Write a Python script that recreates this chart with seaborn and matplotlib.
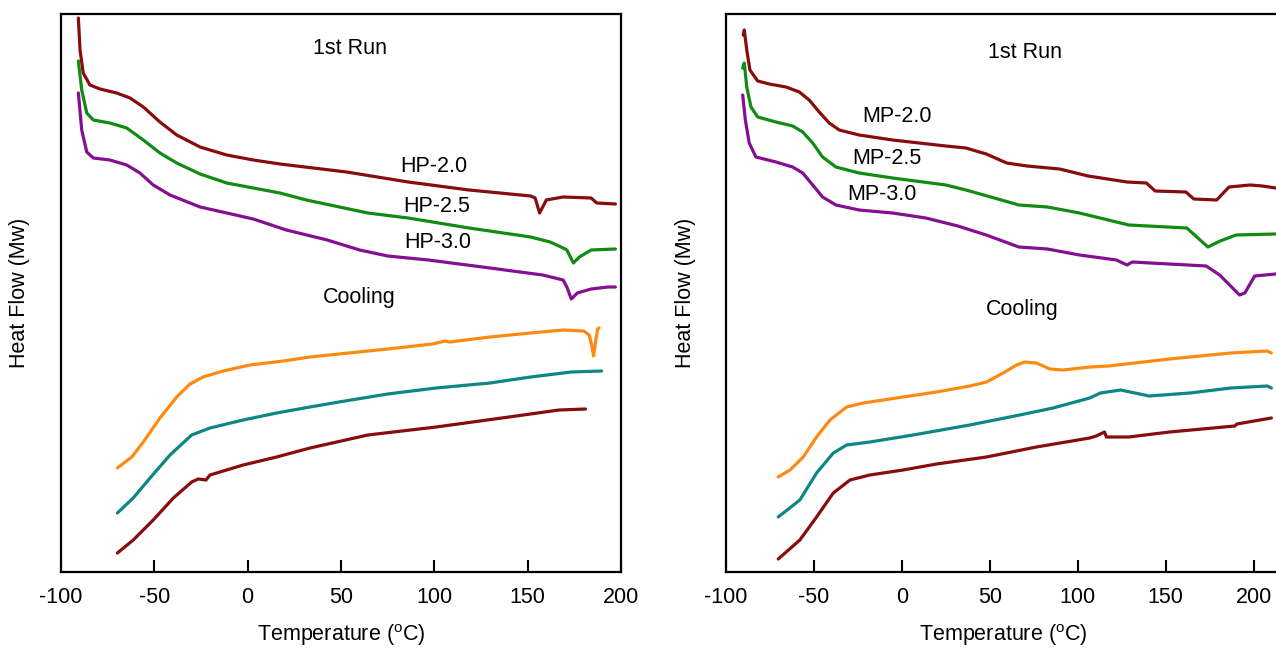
import matplotlib
matplotlib.use("Agg")
import matplotlib.pyplot as plt
import numpy as np
import pandas as pd
import seaborn as sns

# ---------------- data (temperature in °C, heat flow in arbitrary units) -------------
xticks = [-100, -50, 0, 50, 100, 150, 200]
xtick_labels = ["-100", "-50", "0", "50", "100", "150", "200"]

# Left panel (HP) - 1st run
hp20_t = [-90.7, -89.8, -88.1, -84.5, -79.1, -70.2, -63, -55.9, -47, -38, -25.5, -11.2, 3,
          17.3, 53, 86, 118.6, 151.6, 154, 156.4, 160, 169, 184, 187, 197]
hp20_hf = [554, 522, 499, 487, 483, 479, 474, 465, 450, 437, 425, 417, 412,
           408, 400, 390, 382, 376, 374, 359, 372, 375, 374, 369, 368]

hp25_t = [-90.7, -88.9, -86.2, -82.7, -73.8, -64.8, -55.9, -47, -38, -25.5, -11.2, 3, 17.3,
          31.4, 64.4, 86, 118.6, 151.6, 162, 169, 171, 174.5, 177.7, 184, 197]
hp25_hf = [511, 482, 459, 452, 449, 444, 432, 419, 409, 398, 389, 384, 379,
           372, 359, 354, 344, 335, 330, 324, 322, 309, 315, 322, 323]

hp30_t = [-90.7, -88.9, -86.2, -82.7, -73.8, -64.8, -57.7, -50.6, -41.6, -25.5, -11.2, 3,
          20.7, 42.6, 60, 75, 96.8, 129.8, 158, 169, 171, 173.4, 176.6, 184, 193, 197]
hp30_hf = [479, 442, 420, 414, 412, 407, 399, 387, 377, 365, 359, 353,
           342, 332, 322, 316, 312, 304, 297, 292, 285, 273, 279, 283, 285, 285]

# Left panel (HP) - cooling
hpc_orange_t = [-69.8, -62.1, -55.9, -47, -38, -30.9, -23.8, -13.1, 1.2, 19.1, 33.4, 75, 99,
                105.8, 108, 129.8, 151.6, 169, 180, 183, 184.5, 185.3, 186.5, 187.5, 188.3]
hpc_orange_hf = [104, 115, 130, 154, 175, 188, 195, 201, 207, 211, 215, 223, 228,
                 231, 230, 235, 239, 242, 241, 237, 225, 216, 232, 243, 244]

hpc_teal_t = [-69.8, -61.3, -52.3, -41.6, -30, -20.2, -2.4, 15.5, 33.4, 48.9, 75, 101,
              129.8, 151.6, 173.4, 189.6]
hpc_teal_hf = [59, 74, 94, 117, 137, 144, 152, 159, 165, 170, 178, 184,
               189, 195, 200, 201]

hpc_red_t = [-69.8, -61.3, -50.6, -39.8, -30, -26.5, -22.3, -20.2, -2.4, 15.5, 33.4, 64.4,
             101, 140, 166.8, 181]
hpc_red_hf = [19, 32, 52, 74, 90, 93, 92, 97, 107, 115, 124, 137,
              145, 155, 162, 163]

# Right panel (MP) - 1st run
mp20_t = [-90.2, -89.6, -88.2, -86.4, -82, -75.4, -65.9, -58.3, -52.7, -47, -41.3, -35.6,
          -24.3, -5.3, 25, 36.4, 48, 59.6, 71.2, 89.7, 105.9, 128, 139, 144, 161.5, 166,
          179, 186, 198, 205, 212.5]
mp20_hf = [537, 542, 522, 502, 491, 488, 485, 480, 472, 460, 449, 442,
           437, 432, 426, 424, 418, 409, 406, 403, 396, 390, 389, 381, 380, 373,
           372, 385, 387, 386, 384]

mp25_t = [-90.5, -89.6, -88.2, -85.8, -82, -71.6, -62.1, -56.4, -50.7, -45.1, -37.5, -24.3,
          -5.3, 25, 36.4, 52.6, 66.5, 82.7, 101, 129, 162, 174, 181, 190, 212.5]
mp25_hf = [504, 509, 485, 465, 455, 450, 446, 440, 429, 415, 405, 399,
           394, 387, 382, 374, 367, 365, 359, 347, 344, 325, 331, 337, 338]

mp30_t = [-90.5, -89, -86.8, -83, -71.6, -62.1, -56.4, -50.7, -45.1, -37.5, -24.3, -5.3,
          13.6, 31.8, 48, 66.5, 82.7, 101, 122, 128, 131, 173, 180.7, 192, 195, 200.6, 212.5]
mp30_hf = [477, 452, 429, 415, 410, 405, 399, 387, 375, 367, 362, 359,
           354, 346, 337, 325, 323, 317, 312, 307, 310, 306, 297, 277, 279, 296, 298]

# Right panel (MP) - cooling
mpc_orange_t = [-70.3, -63.6, -56.1, -48.5, -40.9, -31.4, -22, 0.7, 19.7, 38.6, 48.1, 57.6,
                65.2, 69.9, 76.5, 84.1, 91.6, 107, 117.5, 152.2, 187, 207.8, 210.1]
mpc_orange_hf = [95, 102, 115, 135, 152, 165, 169, 175, 180, 186, 190, 199,
                 207, 210, 209, 203, 202, 205, 206, 213, 219, 221, 219]

mpc_teal_t = [-70.3, -58, -48.5, -39, -31.4, -18.2, 6.4, 38.6, 67, 86, 106.8, 112.9,
              124.4, 140.6, 163.8, 187, 207.8, 210.1]
mpc_teal_hf = [55, 72, 99, 119, 127, 130, 137, 147, 157, 164, 174, 179,
               182, 176, 179, 184, 186, 184]

mpc_red_t = [-70.3, -58, -48.5, -39, -29.5, -18.2, 0.7, 19.7, 48.1, 76.5, 106.8, 110.5,
             115.2, 116.3, 129, 152.2, 189.3, 190.5, 210.1]
mpc_red_hf = [13, 32, 55, 79, 92, 97, 102, 108, 115, 125, 134, 136,
              140, 135, 135, 140, 146, 148, 154]

# ---------------- style -------------
sns.set_theme(style="white")
plt.rcParams["font.family"] = ["Liberation Sans", "DejaVu Sans"]
plt.rcParams["mathtext.fontset"] = "custom"
plt.rcParams["mathtext.rm"] = "Liberation Sans"
plt.rcParams["mathtext.it"] = "Liberation Sans:italic"

RED = "#870c0c"
GREEN = "#138a13"
PURPLE = "#840f90"
ORANGE = "#ff8a12"
TEAL = "#108585"
FS = 15.5

fig = plt.figure(figsize=(12.76, 6.48), dpi=100)
W, H = 1276.0, 648.0
ax1 = fig.add_axes([61 / W, 76 / H, 560 / W, 558 / H])
ax2 = fig.add_axes([726 / W, 76 / H, 554 / W, 558 / H])


def draw(ax, curves, xlim, texts):
    frames = []
    palette = {}
    for name, (t, hf, col) in curves.items():
        frames.append(pd.DataFrame({"T": t, "HF": hf, "curve": name}))
        palette[name] = col
    df = pd.concat(frames, ignore_index=True)
    sns.lineplot(data=df, x="T", y="HF", hue="curve", palette=palette, sort=False,
                 estimator=None, legend=False, linewidth=2.3, ax=ax)
    for ln in ax.lines:
        ln.set_solid_joinstyle("round")
        ln.set_solid_capstyle("round")
    ax.set_xlim(*xlim)
    ax.set_ylim(0, 558)
    ax.set_xticks(xticks)
    ax.set_xticklabels(xtick_labels)
    ax.set_yticks([])
    ax.tick_params(axis="x", bottom=True, direction="in", length=9, width=1.5,
                   pad=11, labelsize=FS, colors="black")
    for s in ax.spines.values():
        s.set_visible(True)
        s.set_color("black")
        s.set_linewidth(1.6)
    ax.set_xlabel("Temperature ($^\\mathrm{o}$C)", fontsize=FS, labelpad=10, color="black")
    ax.set_ylabel("")
    for (tx, ty, s) in texts:
        ax.text(tx, ty, s, ha="center", va="center", fontsize=FS, color="black")


draw(ax1, {
    "HP-2.0": (hp20_t, hp20_hf, RED),
    "HP-2.5": (hp25_t, hp25_hf, GREEN),
    "HP-3.0": (hp30_t, hp30_hf, PURPLE),
    "c-orange": (hpc_orange_t, hpc_orange_hf, ORANGE),
    "c-teal": (hpc_teal_t, hpc_teal_hf, TEAL),
    "c-red": (hpc_red_t, hpc_red_hf, RED),
}, (-100, 200), [
    (54.8, 524, "1st Run"),
    (99.8, 406, "HP-2.0"),
    (101.4, 365, "HP-2.5"),
    (102, 329, "HP-3.0"),
    (60, 274, "Cooling"),
])

draw(ax2, {
    "MP-2.0": (mp20_t, mp20_hf, RED),
    "MP-2.5": (mp25_t, mp25_hf, GREEN),
    "MP-3.0": (mp30_t, mp30_hf, PURPLE),
    "c-orange": (mpc_orange_t, mpc_orange_hf, ORANGE),
    "c-teal": (mpc_teal_t, mpc_teal_hf, TEAL),
    "c-red": (mpc_red_t, mpc_red_hf, RED),
}, (-100, 215), [
    (69.9, 520, "1st Run"),
    (-2.8, 455, "MP-2.0"),
    (-8.7, 413, "MP-2.5"),
    (-11.5, 378, "MP-3.0"),
    (68.2, 262, "Cooling"),
])

fig.text(20 / W, 1 - 293 / H, "Heat Flow (Mw)", rotation=90, ha="center", va="center",
         fontsize=FS, color="black")
fig.text(685 / W, 1 - 293 / H, "Heat Flow (Mw)", rotation=90, ha="center", va="center",
         fontsize=FS, color="black")

fig.savefig("out.png", dpi=100, facecolor="white")
